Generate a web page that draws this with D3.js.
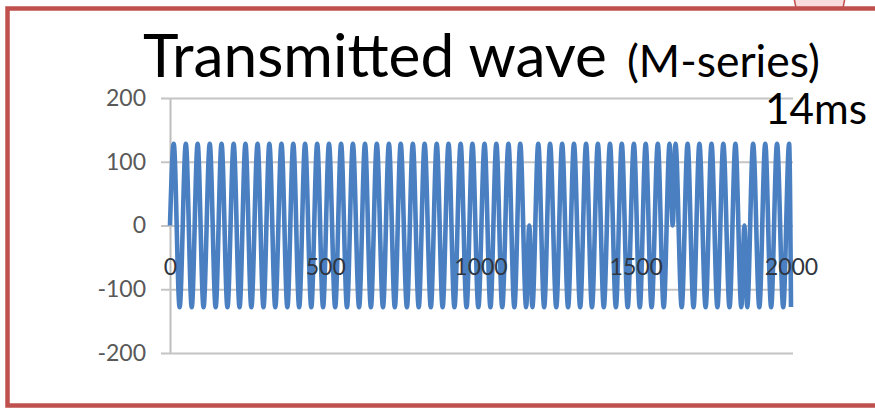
<!DOCTYPE html>
<html>
<head>
<meta charset="utf-8">
<script src="https://cdn.jsdelivr.net/npm/d3@7"></script>
<style>
body { margin: 0; background: white; }
text { font-family: Lato, "Open Sans", sans-serif; }
</style>
</head>
<body>
<div class="canvas"></div>
<script>
const yTicks = [-200, -100, 0, 100, 200];
const xTicks = [0, 500, 1000, 1500, 2000];
const amplitude = 128;
// sample positions of the wave crests / troughs
const peakX = [12, 51, 89, 128, 166, 205, 243, 282, 320, 359, 397, 435, 474, 512, 551,
    589, 628, 666, 705, 743, 782, 820, 859, 897, 936, 974, 1013, 1051, 1090, 1128,
    1186, 1224, 1263, 1301, 1340, 1378, 1417, 1455, 1494, 1532, 1571, 1609,
    1628, 1667, 1705, 1744, 1782, 1821,
    1878, 1917, 1955, 1994];
const troughX = [31, 70, 108, 147, 185, 224, 262, 301, 339, 378, 416, 455, 493, 532, 570,
    609, 647, 686, 724, 763, 801, 840, 878, 916, 955, 993, 1032, 1070, 1109, 1147,
    1167, 1205, 1244, 1282, 1321, 1359, 1397, 1436, 1474, 1513, 1551, 1590,
    1648, 1686, 1725, 1763, 1802, 1840,
    1859, 1898, 1936, 1975, 2000];
// start point and the phase flips (wave turns back at zero)
const zeroX = [0, 1157, 1619, 1850];

const width = 875, height = 414;
const svg = d3.select(".canvas")
  .append("svg")
    .attr("width", width)
    .attr("height", height);

// slide frame
svg.append("path")
    .attr("d", "M794,-2 L845,-2 L843,8 L796,8 Z")
    .attr("fill", "#fadcdc")
    .attr("stroke", "#c0504d")
    .attr("stroke-width", 1.5);
svg.append("rect")
    .attr("x", 7.5)
    .attr("y", 8.5)
    .attr("width", 900)
    .attr("height", 397)
    .attr("fill", "none")
    .attr("stroke", "#c0504d")
    .attr("stroke-width", 4.5);

const x = d3.scaleLinear().domain([0, 2000]).range([170, 791]);
const y = d3.scaleLinear().domain([-200, 200]).range([353, 98]);

const yAxisGroup = svg.append("g").attr("transform", "translate(170,0)");
yAxisGroup.call(d3.axisLeft(y)
    .tickValues(yTicks)
    .tickSizeInner(-(793 - 170))
    .tickSizeOuter(0)
    .tickPadding(24)
    .tickFormat(d => String(d)));
yAxisGroup.select(".domain").attr("stroke", "#bdbdbd").attr("stroke-width", 2);
yAxisGroup.selectAll(".tick line")
    .attr("x1", -9)
    .attr("stroke", "#c4c4c4")
    .attr("stroke-width", 1.8);
yAxisGroup.selectAll(".tick text")
    .attr("font-family", "Lato, 'Open Sans', sans-serif")
    .attr("font-size", 23)
    .attr("fill", "#595959");

const points = peakX.map(d => [d, amplitude])
    .concat(troughX.map(d => [d, -amplitude]))
    .concat(zeroX.map(d => [d, 0]))
    .sort((a, b) => a[0] - b[0]);

const line = d3.line()
    .x(d => x(d[0]))
    .y(d => y(d[1]))
    .curve(d3.curveMonotoneX);

svg.append("path")
    .datum(points)
    .attr("d", line)
    .attr("fill", "none")
    .attr("stroke", "#4a80c2")
    .attr("stroke-width", 4.6)
    .attr("stroke-linejoin", "round");

const xAxisGroup = svg.append("g").attr("transform", `translate(0,${y(0)})`);
xAxisGroup.call(d3.axisBottom(x)
    .tickValues(xTicks)
    .tickSize(0)
    .tickPadding(33)
    .tickFormat(d => String(d)));
xAxisGroup.select(".domain").remove();
xAxisGroup.selectAll(".tick text")
    .attr("font-family", "Lato, 'Open Sans', sans-serif")
    .attr("font-size", 23)
    .attr("fill", "#2f3640");

function fitText(sel, w) {
    const len = sel.node().getComputedTextLength();
    sel.attr("font-size", 40 * w / len);
}

const title = svg.append("text").attr("x", 143).attr("y", 77)
    .attr("font-size", 40).attr("fill", "black").text("Transmitted wave");
fitText(title, 464);
const sub = svg.append("text").attr("x", 627).attr("y", 77)
    .attr("font-size", 40).attr("fill", "black").text("(M-series)");
fitText(sub, 193);
const dur = svg.append("text").attr("x", 765).attr("y", 124)
    .attr("font-size", 40).attr("fill", "black").text("14ms");
fitText(dur, 102);
</script>
</body>
</html>
